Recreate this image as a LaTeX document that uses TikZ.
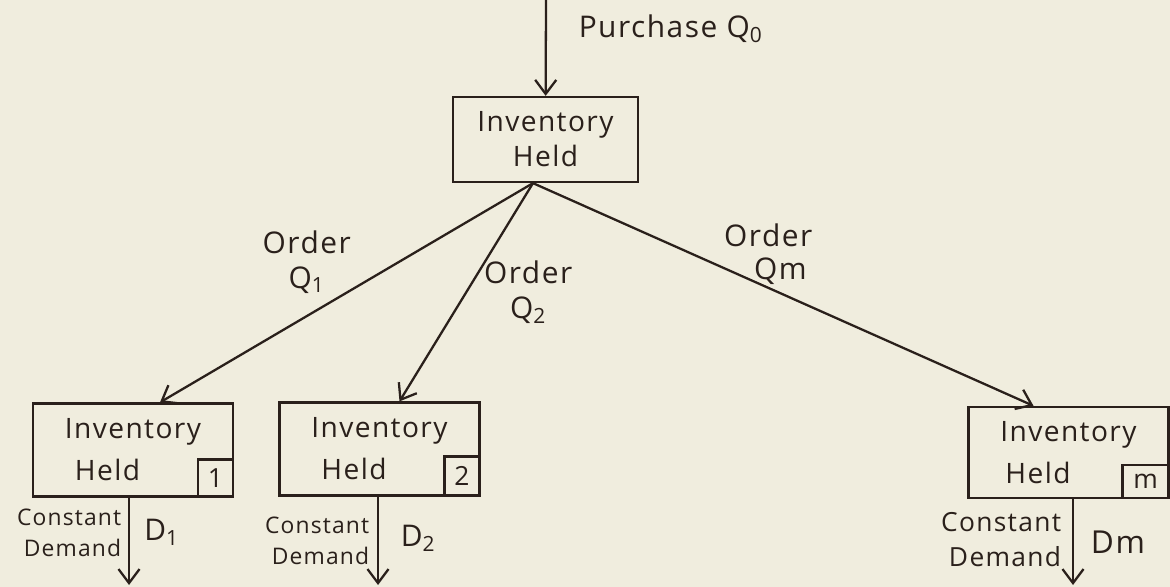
\documentclass[tikz,border=0pt]{standalone}
\usepackage{fontspec}
\setmainfont{Open Sans}[LetterSpace=5]
\usetikzlibrary{positioning,arrows.meta}
\definecolor{paper}{HTML}{F0EDDE}
\definecolor{ink}{HTML}{2A201B}

\begin{document}
\begin{tikzpicture}[x=0.2mm, y=-0.2mm, line width=1.3pt, color=ink, >={Straight Barb[length=8pt,width=12pt]},
        box/.style = {draw, rectangle, minimum width=40mm, minimum height=18.6mm, inner sep=0pt, align=left, font=\fontsize{16}{24}\selectfont},
        tag/.style = {draw, rectangle, minimum width=7mm, minimum height=7.4mm, inner sep=0pt, anchor=south east, font=\fontsize{15}{15}\selectfont},
        order/.style = {align=center, inner sep=1pt, font=\fontsize{17}{20}\selectfont},
        demand/.style = {align=right, inner sep=1pt, font=\fontsize{13}{17.5}\selectfont},
        rate/.style = {inner sep=1pt, font=\fontsize{17}{17}\selectfont}]
        \fill[paper] (0,0) rectangle (1170,587);
        \useasboundingbox (0,0) rectangle (1170,587);

        \node[box, minimum width=37mm, minimum height=17mm, align=center, font=\fontsize{16}{20}\selectfont] (inv_0) at (545.5,139.5) {Inventory\\Held};
        \node[box] (inv_1) at (133,450) {Inventory\\\hspace*{2mm}Held};
        \node[box] (inv_2) at (379.5,449) {Inventory\\\hspace*{2mm}Held};
        \node[box, minimum height=18.2mm] (inv_m) at (1068.5,452.5) {Inventory\\\hspace*{1mm}Held};

        \node[tag] (tag_1) at (inv_1.south east) {1};
        \node[tag, minimum height=7.8mm] (tag_2) at (inv_2.south east) {2};
        \node[tag, minimum width=9.2mm, minimum height=6.6mm] (tag_m) at (inv_m.south east) {m};

        \coordinate (buy) at (546,0);
        \coordinate (fork) at ([xshift=-2.5mm]inv_0.south);
        \coordinate (out_1) at (129,585);
        \coordinate (out_2) at (378,585);
        \coordinate (out_m) at (1073,585);

        \draw[->] (buy) -- node[pos=0.3, right=6mm, order] {Purchase Q\textsubscript{0}} (inv_0);
        \draw[->] (fork) -- node[pos=0.36, left=9mm, order] {Order\\Q\textsubscript{1}} ([xshift=5.4mm]inv_1.north);
        \draw[->] (fork) -- node[pos=0.5, right=3mm, order] {Order\\Q\textsubscript{2}} ([xshift=4mm]inv_2.north);
        \draw[->] (fork) -- node[pos=0.47, above=0pt, order, align=left, font=\fontsize{17}{19}\selectfont] {Order\\\hspace*{6mm}Qm} ([xshift=-7mm]inv_m.north);

        \draw[->] (out_1 |- inv_1.south) -- node[pos=0.4, left=1mm, demand] {Constant\\Demand} node[pos=0.4, right=2.5mm, rate] {D\textsubscript{1}} (out_1);
        \draw[->] (out_2 |- inv_2.south) -- node[pos=0.5, left=1.2mm, demand] {Constant\\Demand} node[pos=0.47, right=4mm, rate] {D\textsubscript{2}} (out_2);
        \draw[->] (out_m |- inv_m.south) -- node[pos=0.47, left=1.8mm, demand, font=\fontsize{15}{20}\selectfont] {Constant\\Demand} node[pos=0.5, right=3mm, rate, font=\fontsize{18}{18}\selectfont] {Dm} (out_m);
\end{tikzpicture}
\end{document}
